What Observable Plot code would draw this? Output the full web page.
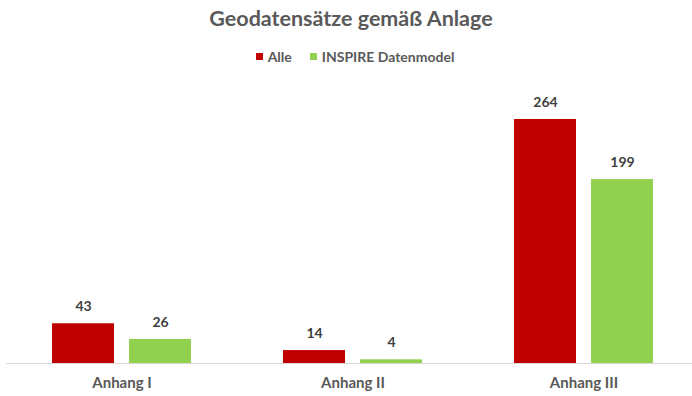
<!DOCTYPE html>
<html>
<head>
<meta charset="utf-8">
<script src="https://cdn.jsdelivr.net/npm/d3@7"></script>
<script src="https://cdn.jsdelivr.net/npm/@observablehq/plot@0.6"></script>
<style>
  html, body { margin: 0; padding: 0; background: #fff; overflow: hidden; width: 692px; height: 396px; }
  #title { height: 36px; line-height: 36px; text-align: center; font-family: Lato, "Open Sans", sans-serif; font-weight: bold; font-size: 21.5px; color: #595959; padding-left: 10px; }
  #legend { height: 40px; display: flex; justify-content: center; align-items: center; font-family: Lato, "Open Sans", sans-serif; font-weight: bold; font-size: 14px; color: #595959; padding-left: 18px; }
  .item { display: flex; align-items: center; margin: 0 9px; }
  .sw { width: 7px; height: 7px; margin-right: 5px; }
</style>
</head>
<body>
<div id="title">Geodatensätze gemäß Anlage</div>
<div id="legend"></div>
<div id="chart"></div>
<script>
const groups = ["Anhang I", "Anhang II", "Anhang III"];
const series = ["Alle", "INSPIRE Datenmodel"];
const alle = [43, 14, 264];
const inspire = [26, 4, 199];
const colors = ["#C00000", "#92D050"];

const data = [];
groups.forEach((g, i) => {
  data.push({group: g, series: series[0], value: alle[i]});
  data.push({group: g, series: series[1], value: inspire[i]});
});

const legend = document.getElementById("legend");
series.forEach((s, i) => {
  const it = document.createElement("div");
  it.className = "item";
  it.innerHTML = `<span class="sw" style="background:${colors[i]}"></span><span>${s}</span>`;
  legend.appendChild(it);
});

const chart = Plot.plot({
  width: 692,
  height: 320,
  marginLeft: 6,
  marginRight: 0,
  marginTop: 10,
  marginBottom: 33,
  style: {fontFamily: "Lato, 'Open Sans', sans-serif", overflow: "visible"},
  fx: {domain: groups, range: [6, 699], padding: 0, axis: null},
  x: {domain: series, paddingInner: 0.195, paddingOuter: 0.5975, axis: null},
  y: {domain: [0, 300], range: [287, 9.73], axis: null},
  color: {domain: series, range: colors},
  marks: [
    Plot.ruleY([0], {stroke: "#d9d9d9", strokeWidth: 1}),
    Plot.barY(data, {fx: "group", x: "series", y: "value", fill: "series"}),
    Plot.text(data, {fx: "group", x: "series", y: "value", text: d => String(d.value), dy: -17, lineAnchor: "middle", fontSize: 14, fontWeight: "bold", fill: "#404040"}),
    Plot.text(groups, {fx: d => d, text: d => d, frameAnchor: "bottom", dy: 20, lineAnchor: "middle", fontSize: 15, fontWeight: "bold", fill: "#595959"})
  ]
});
document.getElementById("chart").appendChild(chart);
</script>
</body>
</html>
